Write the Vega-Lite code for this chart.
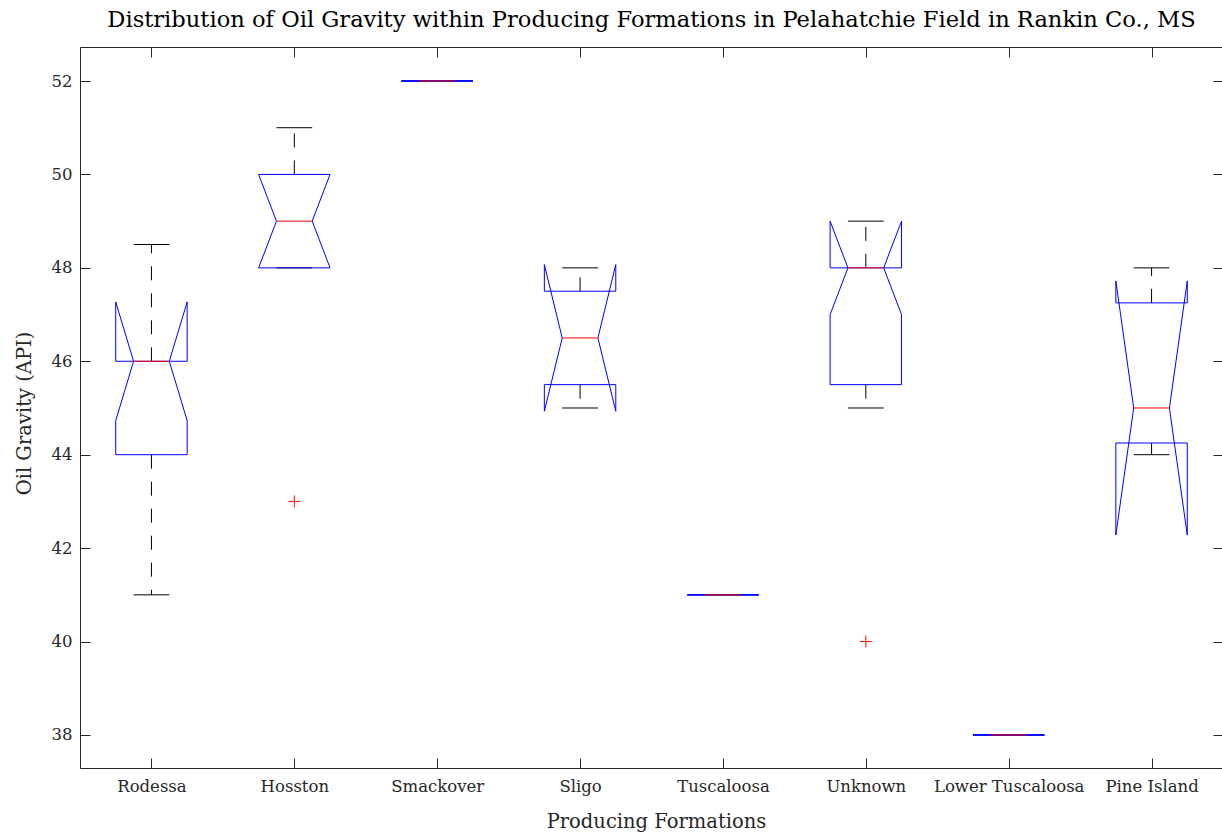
{
  "$schema": "https://vega.github.io/schema/vega-lite/v6.json",
  "width": 1143,
  "height": 721,
  "autosize": "none",
  "padding": {"left": 80, "top": 47, "right": 0, "bottom": 71},
  "background": "white",
  "config": {
    "view": {"stroke": null},
    "axis": {
      "grid": false,
      "domainColor": "#262626",
      "tickColor": "#262626",
      "labelColor": "#262626",
      "titleColor": "#262626",
      "labelFont": "DejaVu Serif",
      "titleFont": "DejaVu Serif",
      "labelFontSize": 16.5,
      "titleFontSize": 19.5,
      "titleFontWeight": "normal",
      "domainWidth": 1,
      "tickWidth": 1
    }
  },
  "title": {
    "text": "Distribution of Oil Gravity within Producing Formations in Pelahatchie Field in Rankin Co., MS",
    "font": "DejaVu Serif",
    "fontSize": 22.6,
    "fontWeight": "normal",
    "color": "#000000",
    "anchor": "middle",
    "offset": 15
  },
  "data": {
    "values": [
      {"f": "Rodessa", "pos": 1, "q1": 44, "q3": 46, "med": 46, "nlo": 44.73, "nhi": 47.27, "wlo": 41, "whi": 48.5},
      {"f": "Hosston", "pos": 2, "q1": 48, "q3": 50, "med": 49, "nlo": 48.0, "nhi": 50.0, "wlo": 48, "whi": 51},
      {"f": "Smackover", "pos": 3, "q1": 52, "q3": 52, "med": 52, "nlo": 52, "nhi": 52, "wlo": 52, "whi": 52},
      {"f": "Sligo", "pos": 4, "q1": 45.5, "q3": 47.5, "med": 46.5, "nlo": 44.93, "nhi": 48.07, "wlo": 45, "whi": 48},
      {"f": "Tuscaloosa", "pos": 5, "q1": 41, "q3": 41, "med": 41, "nlo": 41, "nhi": 41, "wlo": 41, "whi": 41},
      {"f": "Unknown", "pos": 6, "q1": 45.5, "q3": 48, "med": 48, "nlo": 47.0, "nhi": 49.0, "wlo": 45, "whi": 49},
      {"f": "Lower Tuscaloosa", "pos": 7, "q1": 38, "q3": 38, "med": 38, "nlo": 38, "nhi": 38, "wlo": 38, "whi": 38},
      {"f": "Pine Island", "pos": 8, "q1": 44.25, "q3": 47.25, "med": 45, "nlo": 42.28, "nhi": 47.72, "wlo": 44, "whi": 48}
    ]
  },
  "transform": [
    {"calculate": "datum.pos - 0.25", "as": "xL"},
    {"calculate": "datum.pos + 0.25", "as": "xR"},
    {"calculate": "datum.pos - 0.125", "as": "xLm"},
    {"calculate": "datum.pos + 0.125", "as": "xRm"}
  ],
  "resolve": {"axis": {"x": "independent", "y": "independent"}},
  "layer": [
    {
      "mark": {"type": "rule", "color": "#000000", "strokeWidth": 1, "strokeDash": [14, 13]},
      "encoding": {
        "x": {"field": "pos", "type": "quantitative", "scale": {"domain": [0.5, 8.5], "nice": false, "zero": false},
          "axis": {"orient": "bottom", "values": [1, 2, 3, 4, 5, 6, 7, 8],
            "labelExpr": "['Rodessa','Hosston','Smackover','Sligo','Tuscaloosa','Unknown','Lower Tuscaloosa','Pine Island'][datum.value - 1]",
            "tickSize": -10, "labelPadding": 20, "labelFlush": false, "labelOverlap": false,
            "title": "Producing Formations", "titlePadding": 18, "titleX": 576}},
        "y": {"field": "q3", "type": "quantitative", "scale": {"domain": [37.293, 52.728], "nice": false, "zero": false},
          "axis": {"orient": "left", "values": [38, 40, 42, 44, 46, 48, 50, 52], "tickSize": -10, "labelPadding": 18,
            "title": "Oil Gravity (API)", "titlePadding": 17, "titleY": 366}},
        "y2": {"field": "whi"}
      }
    },
    {
      "mark": {"type": "rule", "color": "#000000", "strokeWidth": 1, "strokeDash": [14, 13]},
      "encoding": {
        "x": {"field": "pos", "type": "quantitative", "axis": null},
        "y": {"field": "q1", "type": "quantitative", "axis": null},
        "y2": {"field": "wlo"}
      }
    },
    {
      "mark": {"type": "rule", "color": "#000000", "strokeWidth": 1},
      "encoding": {
        "x": {"field": "xLm", "type": "quantitative", "axis": null},
        "x2": {"field": "xRm"},
        "y": {"field": "whi", "type": "quantitative", "axis": null}
      }
    },
    {
      "mark": {"type": "rule", "color": "#000000", "strokeWidth": 1},
      "encoding": {
        "x": {"field": "xLm", "type": "quantitative", "axis": null},
        "x2": {"field": "xRm"},
        "y": {"field": "wlo", "type": "quantitative", "axis": null}
      }
    },
    {
      "mark": {"type": "rule", "color": "#0000ff", "strokeWidth": 1},
      "encoding": {
        "x": {"field": "xL", "type": "quantitative", "axis": null},
        "x2": {"field": "xR"},
        "y": {"field": "q1", "type": "quantitative", "axis": null}
      }
    },
    {
      "mark": {"type": "rule", "color": "#0000ff", "strokeWidth": 1},
      "encoding": {
        "x": {"field": "xL", "type": "quantitative", "axis": null},
        "x2": {"field": "xR"},
        "y": {"field": "q3", "type": "quantitative", "axis": null}
      }
    },
    {
      "mark": {"type": "rule", "color": "#0000ff", "strokeWidth": 1},
      "encoding": {
        "x": {"field": "xL", "type": "quantitative", "axis": null},
        "y": {"field": "q1", "type": "quantitative", "axis": null},
        "y2": {"field": "nlo"}
      }
    },
    {
      "mark": {"type": "rule", "color": "#0000ff", "strokeWidth": 1},
      "encoding": {
        "x": {"field": "xR", "type": "quantitative", "axis": null},
        "y": {"field": "q1", "type": "quantitative", "axis": null},
        "y2": {"field": "nlo"}
      }
    },
    {
      "mark": {"type": "rule", "color": "#0000ff", "strokeWidth": 1},
      "encoding": {
        "x": {"field": "xL", "type": "quantitative", "axis": null},
        "y": {"field": "q3", "type": "quantitative", "axis": null},
        "y2": {"field": "nhi"}
      }
    },
    {
      "mark": {"type": "rule", "color": "#0000ff", "strokeWidth": 1},
      "encoding": {
        "x": {"field": "xR", "type": "quantitative", "axis": null},
        "y": {"field": "q3", "type": "quantitative", "axis": null},
        "y2": {"field": "nhi"}
      }
    },
    {
      "mark": {"type": "rule", "color": "#0000ff", "strokeWidth": 1},
      "encoding": {
        "x": {"field": "xL", "type": "quantitative", "axis": null},
        "x2": {"field": "xLm"},
        "y": {"field": "nlo", "type": "quantitative", "axis": null},
        "y2": {"field": "med"}
      }
    },
    {
      "mark": {"type": "rule", "color": "#0000ff", "strokeWidth": 1},
      "encoding": {
        "x": {"field": "xR", "type": "quantitative", "axis": null},
        "x2": {"field": "xRm"},
        "y": {"field": "nlo", "type": "quantitative", "axis": null},
        "y2": {"field": "med"}
      }
    },
    {
      "mark": {"type": "rule", "color": "#0000ff", "strokeWidth": 1},
      "encoding": {
        "x": {"field": "xL", "type": "quantitative", "axis": null},
        "x2": {"field": "xLm"},
        "y": {"field": "nhi", "type": "quantitative", "axis": null},
        "y2": {"field": "med"}
      }
    },
    {
      "mark": {"type": "rule", "color": "#0000ff", "strokeWidth": 1},
      "encoding": {
        "x": {"field": "xR", "type": "quantitative", "axis": null},
        "x2": {"field": "xRm"},
        "y": {"field": "nhi", "type": "quantitative", "axis": null},
        "y2": {"field": "med"}
      }
    },
    {
      "mark": {"type": "rule", "color": "#ff0000", "strokeWidth": 1},
      "encoding": {
        "x": {"field": "xLm", "type": "quantitative", "axis": null},
        "x2": {"field": "xRm"},
        "y": {"field": "med", "type": "quantitative", "axis": null}
      }
    },
    {
      "data": {"values": [{"f": "Hosston", "pos": 2, "v": 43}, {"f": "Unknown", "pos": 6, "v": 40}]},
      "mark": {"type": "point", "shape": "M-1,0L1,0M0,-1L0,1", "size": 144, "filled": false, "color": "#ff0000", "strokeWidth": 1, "opacity": 1},
      "encoding": {
        "x": {"field": "pos", "type": "quantitative",
          "axis": {"orient": "top", "values": [1, 2, 3, 4, 5, 6, 7, 8], "labels": false, "tickSize": -10, "title": null}},
        "y": {"field": "v", "type": "quantitative",
          "axis": {"orient": "right", "values": [38, 40, 42, 44, 46, 48, 50, 52], "labels": false, "tickSize": -10, "title": null}}
      }
    }
  ]
}
